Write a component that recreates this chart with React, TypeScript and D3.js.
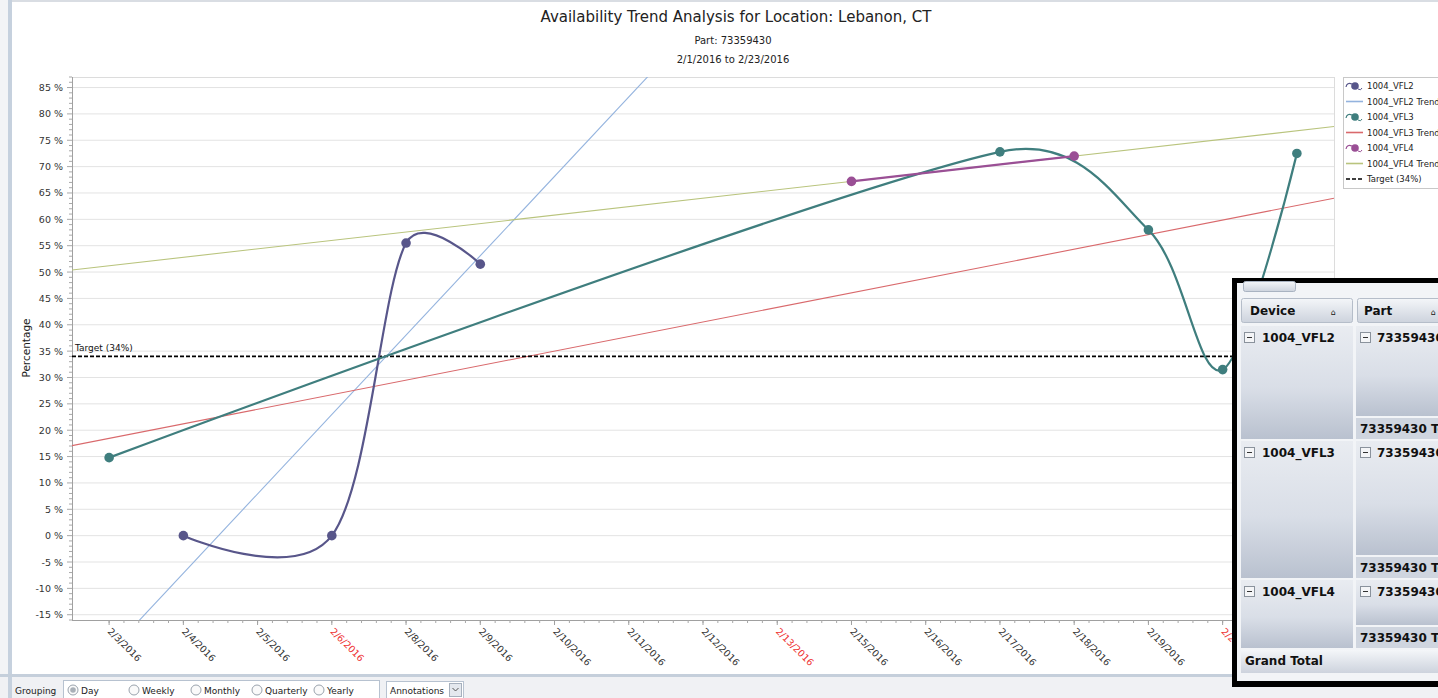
import { useMemo } from 'react'
import * as d3 from 'd3'

// categories on the x axis (weekdays + saturdays, sundays skipped)
const DATES = [
  '2/3/2016', '2/4/2016', '2/5/2016', '2/6/2016', '2/8/2016', '2/9/2016', '2/10/2016', '2/11/2016',
  '2/12/2016', '2/13/2016', '2/15/2016', '2/16/2016', '2/17/2016', '2/18/2016', '2/19/2016', '2/20/2016', '2/22/2016',
]
const RED_DATES = ['2/6/2016', '2/13/2016', '2/20/2016']

const VFL2_DATES = ['2/4/2016', '2/6/2016', '2/8/2016', '2/9/2016']
const VFL2_VALUES = [0, 0, 55.5, 51.5]
const VFL3_DATES = ['2/3/2016', '2/17/2016', '2/19/2016', '2/20/2016', '2/22/2016']
const VFL3_VALUES = [14.8, 72.8, 58, 31.5, 72.5]
const VFL4_DATES = ['2/15/2016', '2/18/2016']
const VFL4_VALUES = [67.2, 72]
const TARGET = 34
const Y_TICKS = d3.range(-15, 90, 5)

const LEGEND = ['1004_VFL2', '1004_VFL2 Trend', '1004_VFL3', '1004_VFL3 Trend', '1004_VFL4', '1004_VFL4 Trend', 'Target (34%)']
const GROUPING = ['Day', 'Weekly', 'Monthly', 'Quarterly', 'Yearly']

const W = 1438
const H = 698
const L = 72
const R = 1334
const T = 77
const B = 620
const FONT = 'Tahoma, "DejaVu Sans", sans-serif'

const C2 = '#58568a'
const C3 = '#3f7e7e'
const C4 = '#9a4f95'
const T2 = '#93b3de'
const T3 = '#d9696c'
const T4 = '#b9c47d'

// least squares fit on category index, like the chart's trend lines
function fit(idx: number[], vals: number[]) {
  const mx = d3.mean(idx)!
  const my = d3.mean(vals)!
  const sxx = d3.sum(idx, (v) => (v - mx) ** 2)
  const sxy = d3.sum(idx, (v, i) => (v - mx) * (vals[i] - my))
  const k = sxy / sxx
  return (i: number) => my + k * (i - mx)
}

// catmull-rom style spline, handles clamped so short segments don't loop
function spline(pts: [number, number][]) {
  const p = d3.path()
  const n = pts.length
  if (!n) return ''
  p.moveTo(pts[0][0], pts[0][1])
  const dist = (a: [number, number], b: [number, number]) => Math.hypot(b[0] - a[0], b[1] - a[1])
  // handle of point i on the side of segment (i -> j)
  const handle = (i: number, j: number): [number, number] => {
    if (i === 0 || i === n - 1) return [0, 0]
    const dx = pts[i + 1][0] - pts[i - 1][0]
    const dy = pts[i + 1][1] - pts[i - 1][1]
    const len = Math.hypot(dx, dy)
    const m = Math.min(len / 6, dist(pts[i], pts[j]) * 0.47)
    const s = j > i ? 1 : -1
    return [(s * dx * m) / len, (s * dy * m) / len]
  }
  for (let i = 0; i < n - 1; i++) {
    const a = handle(i, i + 1)
    const b = handle(i + 1, i)
    p.bezierCurveTo(pts[i][0] + a[0], pts[i][1] + a[1], pts[i + 1][0] + b[0], pts[i + 1][1] + b[1], pts[i + 1][0], pts[i + 1][1])
  }
  return p.toString()
}

export default function App() {
  const { x, xi, y } = useMemo(
    () => ({
      x: d3.scalePoint<string>().domain(DATES).range([L, R]).padding(0.5),
      xi: d3.scaleLinear().domain([-0.5, DATES.length - 0.5]).range([L, R]),
      y: d3.scaleLinear().domain([-16, 87]).range([B, T]),
    }),
    []
  )

  const series = [
    { dates: VFL2_DATES, values: VFL2_VALUES, color: C2, trend: T2 },
    { dates: VFL3_DATES, values: VFL3_VALUES, color: C3, trend: T3 },
    { dates: VFL4_DATES, values: VFL4_VALUES, color: C4, trend: T4 },
  ]

  const minorY = d3.range(-16, 88, 1)
  const step = x.step()
  const minorX = d3.range(0, DATES.length * 5).map((i) => L + (i * step) / 5 + step / 2)

  return (
    <div style={{ position: 'fixed', left: 0, top: 0 }}>
      <svg width={W} height={H} viewBox={`0 0 ${W} ${H}`} style={{ display: 'block', fontFamily: FONT }}>
        <defs>
          <clipPath id="plot">
            <rect x={L} y={T} width={R - L} height={B - T} />
          </clipPath>
          <linearGradient id="cell" x1="0" y1="0" x2="0" y2="1">
            <stop offset="0" stopColor="#e9ecf1" />
            <stop offset="0.55" stopColor="#d9dee7" />
            <stop offset="1" stopColor="#b9c1cf" />
          </linearGradient>
          <linearGradient id="hdr" x1="0" y1="0" x2="0" y2="1">
            <stop offset="0" stopColor="#f4f6f9" />
            <stop offset="1" stopColor="#cdd3dd" />
          </linearGradient>
        </defs>

        <rect width={W} height={H} fill="#ffffff" />
        <rect x={0} y={0} width={W} height={2} fill="#d9dde3" />
        <rect x={0} y={0} width={8} height={H} fill="#f3f4f6" />
        <rect x={8} y={0} width={4} height={H} fill="#c6d1de" />

        {/* titles */}
        <text x={736} y={22} textAnchor="middle" fontSize={15} fill="#222">
          Availability Trend Analysis for Location: Lebanon, CT
        </text>
        <text x={733} y={44} textAnchor="middle" fontSize={10} fill="#222">
          Part: 73359430
        </text>
        <text x={733} y={63} textAnchor="middle" fontSize={10} fill="#222">
          2/1/2016 to 2/23/2016
        </text>

        {/* grid + frame */}
        {Y_TICKS.map((t) => (
          <line key={t} x1={L} x2={R} y1={y(t)} y2={y(t)} stroke="#e3e3e3" />
        ))}
        <line x1={L} x2={R} y1={T + 0.5} y2={T + 0.5} stroke="#dcdcdc" />
        <line x1={R + 0.5} x2={R + 0.5} y1={T} y2={B} stroke="#dcdcdc" />

        {/* y axis */}
        <line x1={L + 0.5} x2={L + 0.5} y1={T} y2={B} stroke="#a0a0a0" />
        {minorY.map((t) => (
          <line key={t} x1={t % 5 === 0 ? L - 5 : L - 3} x2={L} y1={y(t)} y2={y(t)} stroke="#a8a8a8" />
        ))}
        {Y_TICKS.map((t) => (
          <text key={t} x={63} y={y(t) + 3.5} textAnchor="end" fontSize={9.5} fill="#333">
            {t} %
          </text>
        ))}
        <text x={30} y={348} textAnchor="middle" fontSize={10.5} fill="#222" transform="rotate(-90 30 348)">
          Percentage
        </text>

        {/* x axis */}
        <line x1={L} x2={R} y1={B + 0.5} y2={B + 0.5} stroke="#a0a0a0" />
        {minorX.map((v, i) => (
          <line key={i} x1={v} x2={v} y1={B} y2={B + 3} stroke="#a8a8a8" />
        ))}
        {DATES.map((d) => (
          <g key={d}>
            <line x1={x(d)} x2={x(d)} y1={B} y2={B + 5} stroke="#a0a0a0" />
            <text
              x={x(d)! - 2}
              y={B + 12}
              fontSize={9.5}
              fill={RED_DATES.includes(d) ? '#ee3030' : '#333'}
              transform={`rotate(45 ${x(d)! - 2} ${B + 12})`}
            >
              {d}
            </text>
          </g>
        ))}

        {/* trend lines */}
        <g clipPath="url(#plot)">
          {series.map((s, k) => {
            const f = fit(s.dates.map((d) => DATES.indexOf(d)), s.values)
            const i0 = -0.5
            const i1 = DATES.length - 0.5
            return (
              <line key={k} x1={xi(i0)} x2={xi(i1)} y1={y(f(i0))} y2={y(f(i1))} stroke={s.trend} strokeWidth={1.1} />
            )
          })}
        </g>

        {/* target */}
        <line x1={L} x2={R} y1={y(TARGET)} y2={y(TARGET)} stroke="#000" strokeWidth={1.6} strokeDasharray="4 2" />
        <text x={L + 3} y={y(TARGET) - 5} fontSize={9} fill="#111">
          Target (34%)
        </text>

        {/* series */}
        <g clipPath="url(#plot)">
          {series.map((s, k) => {
            const pts = s.dates.map((d, i) => [x(d)!, y(s.values[i])] as [number, number])
            return (
              <g key={k}>
                <path d={spline(pts)} fill="none" stroke={s.color} strokeWidth={2.2} />
                {pts.map((p, i) => (
                  <circle key={i} cx={p[0]} cy={p[1]} r={4.8} fill={s.color} />
                ))}
              </g>
            )
          })}
        </g>

        {/* legend */}
        <rect x={1343.5} y={77.5} width={110} height={111} fill="#fff" stroke="#c8c8c8" />
        {LEGEND.map((name, i) => {
          const ly = 86 + i * 15.5
          const isSeries = i < 6 && i % 2 === 0
          const color = [C2, T2, C3, T3, C4, T4, '#000'][i]
          return (
            <g key={name}>
              {isSeries ? (
                <g>
                  <path d={`M1346,${ly + 1} Q1347,${ly - 4} 1352,${ly - 2}`} fill="none" stroke={color} strokeWidth={1.2} />
                  <circle cx={1355} cy={ly} r={3.8} fill={color} />
                  <path d={`M1358,${ly + 3} Q1361,${ly + 5} 1362,${ly + 2}`} fill="none" stroke={color} strokeWidth={1} />
                </g>
              ) : (
                <line
                  x1={1346}
                  x2={1363}
                  y1={ly}
                  y2={ly}
                  stroke={color}
                  strokeWidth={i === 6 ? 1.5 : 1.6}
                  strokeDasharray={i === 6 ? '4 2' : undefined}
                />
              )}
              <text x={1367} y={ly + 3} fontSize={8.5} fill="#222">
                {name}
              </text>
            </g>
          )
        })}

        {/* bottom toolbar */}
        <rect x={0} y={674} width={W} height={3} fill="#c5cfdb" />
        <rect x={0} y={677} width={W} height={21} fill="#f0f1f4" />
        <rect x={8} y={677} width={4} height={21} fill="#c6d1de" />
        <text x={15} y={694} fontSize={9} fill="#222">
          Grouping
        </text>
        <rect x={63.5} y={680.5} width={316} height={20} fill="#fff" stroke="#b7c2d0" />
        {GROUPING.map((g, i) => {
          const gx = [73, 134, 196, 257, 319][i]
          return (
            <g key={g}>
              <circle cx={gx} cy={690} r={5} fill="#fafafa" stroke="#9aa3ad" />
              {i === 0 && <circle cx={gx} cy={690} r={2.8} fill="#a9b0b8" />}
              <text x={gx + 8} y={694} fontSize={9} fill="#222">
                {g}
              </text>
            </g>
          )
        })}
        <rect x={386.5} y={681.5} width={77} height={17} fill="#fff" stroke="#b7c2d0" />
        <text x={390} y={694} fontSize={9} fill="#222">
          Annotations
        </text>
        <rect x={449.5} y={683.5} width={12} height={13} fill="#e4e8ee" stroke="#a6b0bd" />
        <path d="M452.5,688 L455.5,691 L458.5,688" fill="none" stroke="#555" strokeWidth={1} />

        {/* pivot grid overlay */}
        <rect x={1232} y={278} width={220} height={409} fill="#000" />
        <rect x={1237} y={283} width={210} height={398} fill="#f2f4f7" />
        <rect x={1243.5} y={281.5} width={52} height={10} rx={2} fill="url(#hdr)" stroke="#a9b3c1" />
        <rect x={1241.5} y={298.5} width={111} height={24} rx={2} fill="url(#hdr)" stroke="#b5bdc9" />
        <rect x={1357.5} y={298.5} width={90} height={24} rx={2} fill="url(#hdr)" stroke="#b5bdc9" />
        <text x={1250} y={315} fontSize={12} fontWeight="bold" fill="#111">
          Device
        </text>
        <text x={1331} y={315} fontSize={8} fill="#111">
          ⌂
        </text>
        <text x={1364} y={315} fontSize={12} fontWeight="bold" fill="#111">
          Part
        </text>
        <text x={1431} y={315} fontSize={8} fill="#111">
          ⌂
        </text>

        {[
          { name: '1004_VFL2', y0: 326, y1: 439, tot: 418 },
          { name: '1004_VFL3', y0: 441, y1: 578, tot: 557 },
          { name: '1004_VFL4', y0: 580, y1: 648, tot: 627 },
        ].map((r) => (
          <g key={r.name}>
            <rect x={1241} y={r.y0} width={112} height={r.y1 - r.y0} fill="url(#cell)" />
            <rect x={1244.5} y={r.y0 + 6.5} width={10} height={10} fill="#f4f5f7" stroke="#8a929c" />
            <line x1={1247} x2={1252} y1={r.y0 + 11.5} y2={r.y0 + 11.5} stroke="#333" />
            <text x={1262} y={r.y0 + 16} fontSize={12} fontWeight="bold" fill="#111">
              {r.name}
            </text>
            <rect x={1356} y={r.y0} width={92} height={r.tot - r.y0 - 2} fill="url(#cell)" />
            <rect x={1360.5} y={r.y0 + 6.5} width={10} height={10} fill="#f4f5f7" stroke="#8a929c" />
            <line x1={1363} x2={1368} y1={r.y0 + 11.5} y2={r.y0 + 11.5} stroke="#333" />
            <text x={1377} y={r.y0 + 16} fontSize={12} fontWeight="bold" fill="#111">
              73359430
            </text>
            <rect x={1356} y={r.tot} width={92} height={r.y1 - r.tot} fill="#cfd5df" />
            <text x={1360} y={r.tot + 15} fontSize={12} fontWeight="bold" fill="#111">
              73359430 Total
            </text>
          </g>
        ))}
        <rect x={1241} y={650} width={207} height={23} fill="url(#hdr)" />
        <text x={1245} y={665} fontSize={12} fontWeight="bold" fill="#111">
          Grand Total
        </text>
      </svg>
    </div>
  )
}
